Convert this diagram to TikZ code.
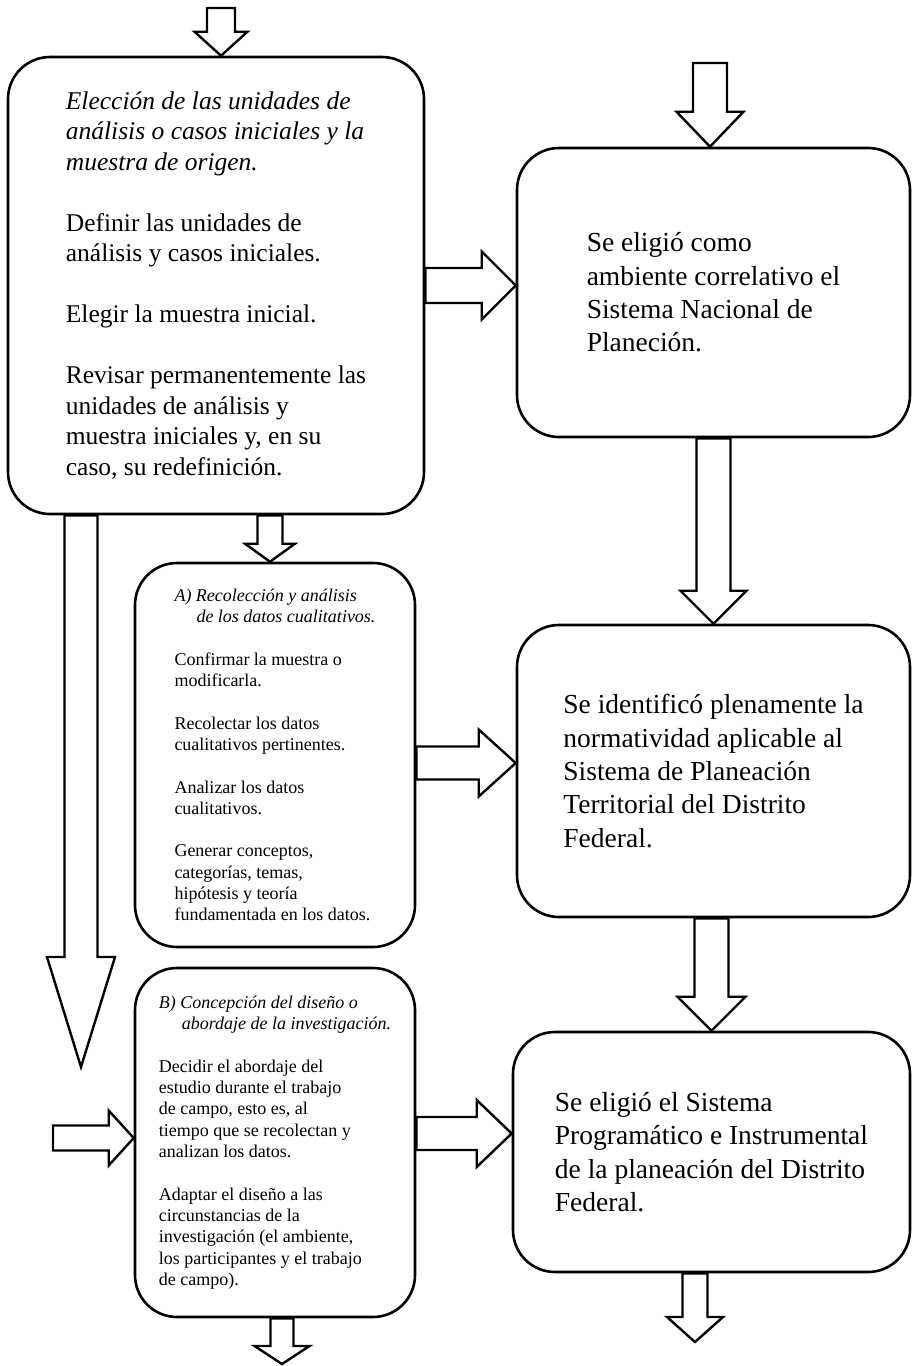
\documentclass[tikz,border=0pt]{standalone}
\usepackage{fontspec}
\setmainfont{Liberation Serif}
\usetikzlibrary{calc}

\tikzset{
  caja/.style={draw, line width=2.6pt, rounded corners=42pt, align=left, inner sep=0pt},
  cajagrande/.style={caja, font=\fontsize{27.5}{33.3}\selectfont},
  cajamedia/.style={caja, font=\fontsize{25.5}{30.5}\selectfont},
  cajachica/.style={caja, font=\fontsize{18}{21.3}\selectfont},
  flecha/.style={draw, line width=2.4pt, line join=miter}
}
\newcommand{\flechaabajo}[5]{%
  \draw[flecha] let \p1=#1, \p2=#2 in
    (\x2-#3pt,\y1) -- (\x2-#3pt,\y2+#5pt) -- (\x2-#4pt,\y2+#5pt) -- (\x2,\y2)
    -- (\x2+#4pt,\y2+#5pt) -- (\x2+#3pt,\y2+#5pt) -- (\x2+#3pt,\y1) -- cycle;}
\newcommand{\flechader}[5]{%
  \draw[flecha] let \p1=#1, \p2=#2 in
    (\x1,\y2+#3pt) -- (\x2-#5pt,\y2+#3pt) -- (\x2-#5pt,\y2+#4pt) -- (\x2,\y2)
    -- (\x2-#5pt,\y2-#4pt) -- (\x2-#5pt,\y2-#3pt) -- (\x1,\y2-#3pt) -- cycle;}

\begin{document}
\begin{tikzpicture}[x=1pt, y=-1pt]
  \useasboundingbox (0,0) rectangle (913,1366);

  \node[cajamedia, minimum width=416pt, minimum height=457pt] (caja1) at (216,285.5) {%
    \textit{Elección de las unidades de}\\
    \textit{análisis o casos iniciales y la}\\
    \textit{muestra de origen.}\\[30.5pt]
    Definir las unidades de\\
    análisis y casos iniciales.\\[30.5pt]
    Elegir la muestra inicial.\\[30.5pt]
    Revisar permanentemente las\\
    unidades de análisis y\\
    muestra iniciales y, en su\\
    caso, su redefinición.};

  \node[cajachica, minimum width=280pt, minimum height=384pt] (cajaA) at (275,755) {%
    \textit{A) Recolección y análisis}\\
    \hspace*{22pt}\textit{de los datos cualitativos.}\\[21.3pt]
    Confirmar la muestra o\\
    modificarla.\\[21.3pt]
    Recolectar los datos\\
    cualitativos pertinentes.\\[21.3pt]
    Analizar los datos\\
    cualitativos.\\[21.3pt]
    Generar conceptos,\\
    categorías, temas,\\
    hipótesis y teoría\\
    fundamentada en los datos.};

  \node[cajachica, minimum width=280pt, minimum height=349pt] (cajaB) at (275,1142.5) {%
    \textit{B) Concepción del diseño o}\\
    \hspace*{23pt}\textit{abordaje de la investigación.}\\[21.3pt]
    Decidir el abordaje del\\
    estudio durante el trabajo\\
    de campo, esto es, al\\
    tiempo que se recolectan y\\
    analizan los datos.\\[21.3pt]
    Adaptar el diseño a las\\
    circunstancias de la\\
    investigación (el ambiente,\\
    los participantes y el trabajo\\
    de campo).};

  \node[cajagrande, minimum width=393pt, minimum height=289pt] (cajaR1) at (713.5,292.5) {%
    Se eligió como\\
    ambiente correlativo el\\
    Sistema Nacional de\\
    Planeción.};

  \node[cajagrande, minimum width=393pt, minimum height=292pt] (cajaR2) at (713.5,771) {%
    Se identificó plenamente la\\
    normatividad aplicable al\\
    Sistema de Planeación\\
    Territorial del Distrito\\
    Federal.};

  \node[cajagrande, minimum width=397pt, minimum height=240pt] (cajaR3) at (711.5,1152) {%
    Se eligió el Sistema\\
    Programático e Instrumental\\
    de la planeación del Distrito\\
    Federal.};

  \coordinate (ent1) at (221,8);
  \coordinate (ent2) at (710,63);
  \coordinate (ent3) at (53,1138);
  \coordinate (baja1) at (81,1067);
  \coordinate (sal1) at (282,1364);
  \coordinate (sal2) at (695,1342);

  \flechaabajo{(ent1)}{(ent1 |- caja1.north)}{14}{26.5}{24}
  \flechaabajo{(ent2)}{(ent2 |- cajaR1.north)}{17}{33.5}{35}
  \flechader{(caja1.east)}{(caja1.east -| cajaR1.west)}{17.5}{34}{34}
  \flechaabajo{([xshift=-5pt]cajaA.north |- caja1.south)}{([xshift=-5pt]cajaA.north)}{12.5}{25}{18}
  \flechaabajo{(baja1 |- caja1.south)}{(baja1)}{16.5}{34}{110}
  \flechaabajo{(cajaR1.south)}{(cajaR2.north)}{17}{33}{33}
  \flechader{([yshift=-8pt]cajaA.east)}{([yshift=-8pt]cajaA.east -| cajaR2.west)}{16.5}{33.5}{37}
  \flechader{(ent3)}{(ent3 -| cajaB.west)}{12.5}{27.5}{25}
  \flechaabajo{(cajaR2.south)}{(cajaR3.north)}{17}{34}{34}
  \flechader{([yshift=9pt]cajaB.east)}{([yshift=9pt]cajaB.east -| cajaR3.west)}{16.5}{33.5}{35}
  \flechaabajo{(sal1 |- cajaB.south)}{(sal1)}{11.5}{27.5}{18}
  \flechaabajo{(sal2 |- cajaR3.south)}{(sal2)}{12.5}{28}{25}
\end{tikzpicture}
\end{document}
